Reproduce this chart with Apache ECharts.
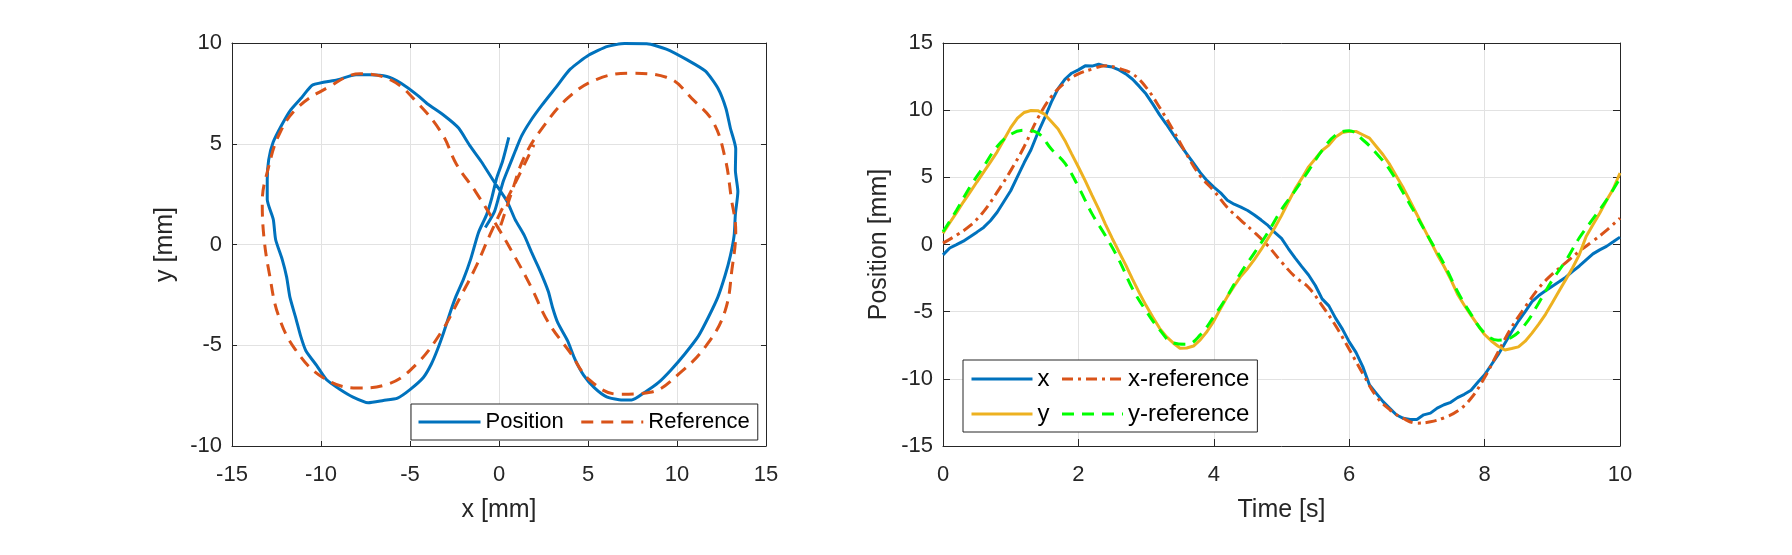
<!DOCTYPE html>
<html>
<head>
<meta charset="utf-8">
<script src="https://cdn.jsdelivr.net/npm/echarts@6/dist/echarts.min.js"></script>
<style>
  html, body { margin: 0; padding: 0; background: #fff; }
  #chart { width: 1792px; height: 555px; }
</style>
</head>
<body>
<div id="chart"></div>
<script>
// measured samples, 0.1 s apart
const time = [
  0.0, 0.1, 0.2, 0.3, 0.4, 0.5, 0.6, 0.7, 0.8, 0.9,
  1.0, 1.1, 1.2, 1.3, 1.4, 1.5, 1.6, 1.7, 1.8, 1.9,
  2.0, 2.1, 2.2, 2.3, 2.4, 2.5, 2.6, 2.7, 2.8, 2.9,
  3.0, 3.1, 3.2, 3.3, 3.4, 3.5, 3.6, 3.7, 3.8, 3.9,
  4.0, 4.1, 4.2, 4.3, 4.4, 4.5, 4.6, 4.7, 4.8, 4.9,
  5.0, 5.1, 5.2, 5.3, 5.4, 5.5, 5.6, 5.7, 5.8, 5.9,
  6.0, 6.1, 6.2, 6.3, 6.4, 6.5, 6.6, 6.7, 6.8, 6.9,
  7.0, 7.1, 7.2, 7.3, 7.4, 7.5, 7.6, 7.7, 7.8, 7.9,
  8.0, 8.1, 8.2, 8.3, 8.4, 8.5, 8.6, 8.7, 8.8, 8.9,
  9.0, 9.1, 9.2, 9.3, 9.4, 9.5, 9.6, 9.7, 9.8, 9.9,
  10.0
];
const posX = [
  -0.77, -0.26, -0.01, 0.25, 0.58, 0.92, 1.27, 1.77, 2.4, 3.2,
  4.0, 5.05, 6.1, 7.05, 8.3, 9.4, 10.6, 11.6, 12.3, 12.75,
  13.0, 13.3, 13.28, 13.42, 13.28, 13.21, 13.0, 12.7, 12.3, 11.77,
  11.2, 10.45, 9.65, 8.95, 8.2, 7.45, 6.75, 6.05, 5.35, 4.75,
  4.27, 3.85, 3.3, 3.0, 2.78, 2.53, 2.2, 1.82, 1.42, 0.9,
  0.45, -0.3, -1.0, -1.65, -2.27, -3.05, -4.05, -4.57, -5.5, -6.3,
  -7.25, -8.03, -9.09, -10.46, -11.08, -11.7, -12.2, -12.69, -12.94, -13.02,
  -13.02, -12.68, -12.55, -12.18, -11.93, -11.75, -11.4, -11.15, -10.85, -10.25,
  -9.7, -8.95, -8.2, -7.35, -6.5, -5.7, -5.0, -4.25, -3.8, -3.45,
  -3.1, -2.78, -2.43, -2.0, -1.6, -1.15, -0.7, -0.4, -0.14, 0.2,
  0.55
];
const posY = [
  0.84, 1.62, 2.37, 3.16, 3.9, 4.65, 5.39, 6.13, 6.9, 7.8,
  8.7, 9.4, 9.83, 9.97, 9.96, 9.7, 9.15, 8.6, 7.75, 6.75,
  5.77, 4.75, 3.68, 2.63, 1.5, 0.45, -0.55, -1.54, -2.6, -3.6,
  -4.55, -5.42, -6.24, -6.86, -7.33, -7.72, -7.7, -7.56, -7.1, -6.48,
  -5.7, -4.77, -3.88, -3.1, -2.36, -1.78, -1.1, -0.37, 0.45, 1.25,
  2.15, 3.15, 4.12, 4.92, 5.78, 6.38, 7.0, 7.4, 8.0, 8.34,
  8.42, 8.42, 8.17, 7.92, 7.3, 6.68, 5.94, 5.07, 4.2, 3.22,
  2.23, 1.24, 0.25, -0.74, -1.62, -2.6, -3.7, -4.52, -5.27, -6.0,
  -6.7, -7.18, -7.57, -7.85, -7.74, -7.62, -7.2, -6.6, -5.93, -5.2,
  -4.34, -3.47, -2.6, -1.73, -0.75, 0.6, 1.47, 2.33, 3.27, 4.13,
  5.32
];

// reference trajectory, 0.2 s apart
const timeRef = [
  0.0, 0.2, 0.4, 0.6, 0.8, 1.0, 1.2, 1.4, 1.6, 1.8,
  2.0, 2.2, 2.4, 2.6, 2.8, 3.0, 3.2, 3.4, 3.6, 3.8,
  4.0, 4.2, 4.4, 4.6, 4.8, 5.0, 5.2, 5.4, 5.6, 5.8,
  6.0, 6.2, 6.4, 6.6, 6.8, 7.0, 7.2, 7.4, 7.6, 7.8,
  8.0, 8.2, 8.4, 8.6, 8.8, 9.0, 9.2, 9.4, 9.6, 9.8,
  10.0
];
const refX = [
  0.1, 0.7, 1.4, 2.45, 3.9, 5.5, 7.3, 9.4, 11.0, 12.05,
  12.7, 13.05, 13.3, 13.1, 12.7, 11.7, 10.2, 8.5, 6.7, 5.1,
  4.0, 2.75, 1.8, 0.9, -0.1, -1.3, -2.4, -3.2, -4.55, -6.05,
  -7.8, -9.6, -11.3, -12.3, -12.95, -13.3, -13.2, -12.9, -12.4, -11.45,
  -9.9, -8.0, -6.15, -4.65, -3.25, -2.2, -1.35, -0.5, 0.25, 1.05,
  1.96
];
const refY = [
  0.95, 2.55, 4.3, 5.8, 7.3, 8.2, 8.5, 8.3, 7.1, 6.05,
  4.3, 2.3, 0.65, -1.15, -3.3, -4.95, -6.35, -7.33, -7.43, -6.73,
  -5.37, -3.83, -2.1, -0.62, 0.9, 2.6, 4.0, 5.5, 7.0, 8.15,
  8.47, 7.8, 6.8, 5.56, 3.83, 2.09, 0.3, -1.45, -3.5, -5.2,
  -6.6, -7.12, -6.9, -5.95, -4.35, -2.65, -1.2, 0.5, 1.9, 3.3,
  4.94
];

const FONT = '"Liberation Sans", Arial, Helvetica, sans-serif';
const INK = '#262626';
const GRID = '#e2e2e2';
const BLUE = '#0072BD', ORANGE = '#D95319', YELLOW = '#EDB120', GREEN = '#00FF00';
const LW = 3;

function mainAxis(gridIndex, pos, min, max, interval, name, nameGap, tickLen, labelMargin) {
  return {
    type: 'value', gridIndex, position: pos, min, max, interval,
    name, nameLocation: 'middle', nameGap,
    nameTextStyle: { fontFamily: FONT, fontSize: 25, color: INK },
    axisLine: { show: true, onZero: false, lineStyle: { color: INK, width: 1 } },
    axisTick: { show: true, inside: true, length: tickLen, lineStyle: { color: INK, width: 1 } },
    axisLabel: { fontFamily: FONT, fontSize: 22, color: INK, margin: labelMargin },
    splitLine: { show: true, lineStyle: { color: GRID, width: 1 } }
  };
}

// top / right copies: just the box edge and inward ticks
function mirrorAxis(gridIndex, pos, min, max, interval, tickLen) {
  return {
    type: 'value', gridIndex, position: pos, min, max, interval,
    axisLine: { show: true, onZero: false, lineStyle: { color: INK, width: 1 } },
    axisTick: { show: true, inside: true, length: tickLen, lineStyle: { color: INK, width: 1 } },
    axisLabel: { show: false },
    splitLine: { show: false }
  };
}

function lineSeries(name, xi, yi, data, color, dash, smooth) {
  return {
    name, type: 'line', xAxisIndex: xi, yAxisIndex: yi, data,
    symbol: 'none', showSymbol: false, smooth,
    lineStyle: { color, width: LW, type: dash },
    itemStyle: { color }
  };
}

const chart = echarts.init(document.getElementById('chart'));
chart.setOption({
  animation: false,
  backgroundColor: '#fff',
  grid: [
    { left: 232, top: 43, width: 534, height: 403 },
    { left: 943, top: 43, width: 677, height: 403 }
  ],
  xAxis: [
    mainAxis(0, 'bottom', -15, 15, 5, 'x [mm]', 52, 5, 18),
    mirrorAxis(0, 'top', -15, 15, 5, 5),
    mainAxis(1, 'bottom', 0, 10, 2, 'Time [s]', 52, 7, 18),
    mirrorAxis(1, 'top', 0, 10, 2, 7)
  ],
  yAxis: [
    mainAxis(0, 'left', -10, 10, 5, 'y [mm]', 54, 5, 10),
    mirrorAxis(0, 'right', -10, 10, 5, 5),
    mainAxis(1, 'left', -15, 15, 5, 'Position [mm]', 51, 7, 10),
    mirrorAxis(1, 'right', -15, 15, 5, 7)
  ],
  legend: [
    {
      data: ['Position', 'Reference'], selectedMode: false,
      left: 411, top: 404, itemWidth: 62, itemHeight: 3, itemGap: 16,
      padding: [6, 8, 6, 6], backgroundColor: '#fff', borderColor: INK, borderWidth: 1,
      itemStyle: { opacity: 0 }, lineStyle: { width: LW },
      textStyle: { fontFamily: FONT, fontSize: 22, color: '#000', lineHeight: 24 }
    },
    {
      data: ['x', 'x-reference', 'y', 'y-reference'], selectedMode: false,
      left: 963, top: 360, width: 300, itemWidth: 61, itemHeight: 3, itemGap: 11,
      padding: [7, 8, 6, 7], backgroundColor: '#fff', borderColor: INK, borderWidth: 1,
      itemStyle: { opacity: 0 }, lineStyle: { width: LW },
      textStyle: { fontFamily: FONT, fontSize: 24, color: '#000', lineHeight: 22 }
    }
  ],
  series: [
    lineSeries('Position', 0, 0, posX.map((x, i) => [x, posY[i]]), BLUE, 'solid', 0.2),
    lineSeries('Reference', 0, 0, refX.map((x, i) => [x, refY[i]]), ORANGE, [12, 8], 0.4),
    lineSeries('x', 2, 2, time.map((t, i) => [t, posX[i]]), BLUE, 'solid', false),
    lineSeries('x-reference', 2, 2, timeRef.map((t, i) => [t, refX[i]]), ORANGE, [11, 5, 3, 5], 0.4),
    lineSeries('y', 2, 2, time.map((t, i) => [t, posY[i]]), YELLOW, 'solid', false),
    lineSeries('y-reference', 2, 2, timeRef.map((t, i) => [t, refY[i]]), GREEN, [12, 8], 0.4)
  ]
});
</script>
</body>
</html>
